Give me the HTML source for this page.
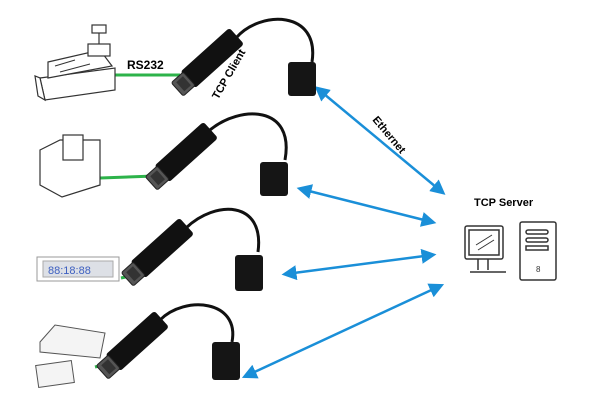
<!DOCTYPE html>
<html><head><style>body{margin:0;background:#fff}svg{display:block}</style></head><body>
<svg width="600" height="403" viewBox="0 0 600 403" xmlns="http://www.w3.org/2000/svg" font-family="Liberation Sans, sans-serif">
<defs>
<marker id="ah" viewBox="0 0 10 10" refX="7" refY="5" markerWidth="6" markerHeight="6" orient="auto-start-reverse"><path d="M0,0 L10,5 L0,10 z" fill="#1a8fd8"/></marker>
<g id="adp">
<rect x="-11" y="-36" width="22" height="66" rx="3" fill="#111"/>
<rect x="-9" y="28" width="18" height="16" rx="2" fill="#555" stroke="#222"/>
<rect x="-6" y="31" width="12" height="9" fill="#333"/>
</g>
</defs>
<!-- arrows -->
<g stroke="#1a8fd8" stroke-width="2.5" fill="none" marker-start="url(#ah)" marker-end="url(#ah)">
<line x1="318" y1="89" x2="442" y2="192"/>
<line x1="301" y1="189" x2="432" y2="222"/>
<line x1="286" y1="274" x2="432" y2="255"/>
<line x1="246" y1="376" x2="440" y2="286"/>
</g>
<!-- green lines -->
<g stroke="#2db34a" stroke-width="3">
<line x1="115" y1="75" x2="180" y2="75"/>
<line x1="100" y1="178" x2="155" y2="176"/>
<line x1="121" y1="278" x2="130" y2="276"/>
<line x1="95" y1="367" x2="107" y2="364"/>
</g>
<!-- cables -->
<g stroke="#111" stroke-width="3" fill="none">
<path d="M236,38 C260,10 320,10 312,62"/>
<path d="M210,130 C240,105 295,105 285,160"/>
<path d="M186,228 C215,200 265,200 258,252"/>
<path d="M160,320 C185,295 240,300 232,342"/>
</g>
<!-- adapters -->
<g transform="translate(210,60) rotate(48)"><use href="#adp"/></g>
<g transform="translate(184,154) rotate(48)"><use href="#adp"/></g>
<g transform="translate(160,250) rotate(48)"><use href="#adp"/></g>
<g transform="translate(135,343) rotate(48)"><use href="#adp"/></g>
<!-- RJ45 -->
<g fill="#151515">
<rect x="288" y="62" width="28" height="34" rx="3"/>
<rect x="260" y="162" width="28" height="34" rx="3"/>
<rect x="235" y="255" width="28" height="36" rx="3"/>
<rect x="212" y="342" width="28" height="38" rx="3"/>
</g>
<!-- cash register -->
<g fill="#fff" stroke="#333" stroke-width="1.2">
<path d="M40,78 L115,68 L115,90 L45,100 Z"/>
<path d="M40,78 L45,100 L38,96 L35,76 Z"/>
<path d="M48,62 L100,50 L112,66 L48,78 Z"/>
<rect x="88" y="44" width="22" height="12"/>
<rect x="92" y="25" width="14" height="8"/>
<line x1="99" y1="33" x2="99" y2="44"/>
<path d="M55,66 L75,60 M60,72 L90,64" stroke-width="1"/>
</g>
<!-- printer -->
<g fill="#fff" stroke="#333" stroke-width="1.2">
<path d="M40,150 L60,140 L100,140 L100,185 L62,197 L40,185 Z"/>
<rect x="63" y="135" width="20" height="25"/>
</g>
<!-- display -->
<rect x="37" y="257" width="82" height="24" fill="#fff" stroke="#999"/>
<rect x="43" y="261" width="70" height="16" fill="#dde0e6" stroke="#aaa"/>
<text x="48" y="274" font-size="11" fill="#3d5fc0">88:18:88</text>
<!-- scale -->
<g fill="#f4f4f4" stroke="#555" stroke-width="1">
<path d="M40,342 L55,325 L105,333 L100,358 L40,352 Z"/>
<rect x="37" y="363" width="36" height="22" transform="rotate(-8 55 374)"/>
</g>
<!-- server -->
<g fill="#fff" stroke="#333" stroke-width="1.5">
<rect x="465" y="226" width="38" height="33" rx="2"/>
<rect x="469" y="230" width="30" height="25"/>
<path d="M478,259 L478,270 M488,259 L488,270 M470,272 L506,272"/>
<rect x="520" y="222" width="36" height="58" rx="2"/>
<rect x="526" y="230" width="22" height="4" rx="2"/>
<rect x="526" y="238" width="22" height="4" rx="2"/>
<rect x="526" y="246" width="22" height="4"/>
<line x1="476" y1="245" x2="492" y2="235" stroke-width="1"/>
<line x1="478" y1="250" x2="494" y2="240" stroke-width="1"/>
</g>
<text x="536" y="272" font-size="8" fill="#333">8</text>
<!-- labels -->
<text x="127" y="69" font-size="12" font-weight="bold">RS232</text>
<text x="0" y="0" font-size="11" font-weight="bold" transform="translate(218,100) rotate(-60)">TCP Client</text>
<text x="0" y="0" font-size="11" font-weight="bold" transform="translate(372,120) rotate(50)">Ethernet</text>
<text x="474" y="206" font-size="11" font-weight="bold">TCP Server</text>
</svg>
</body></html>
